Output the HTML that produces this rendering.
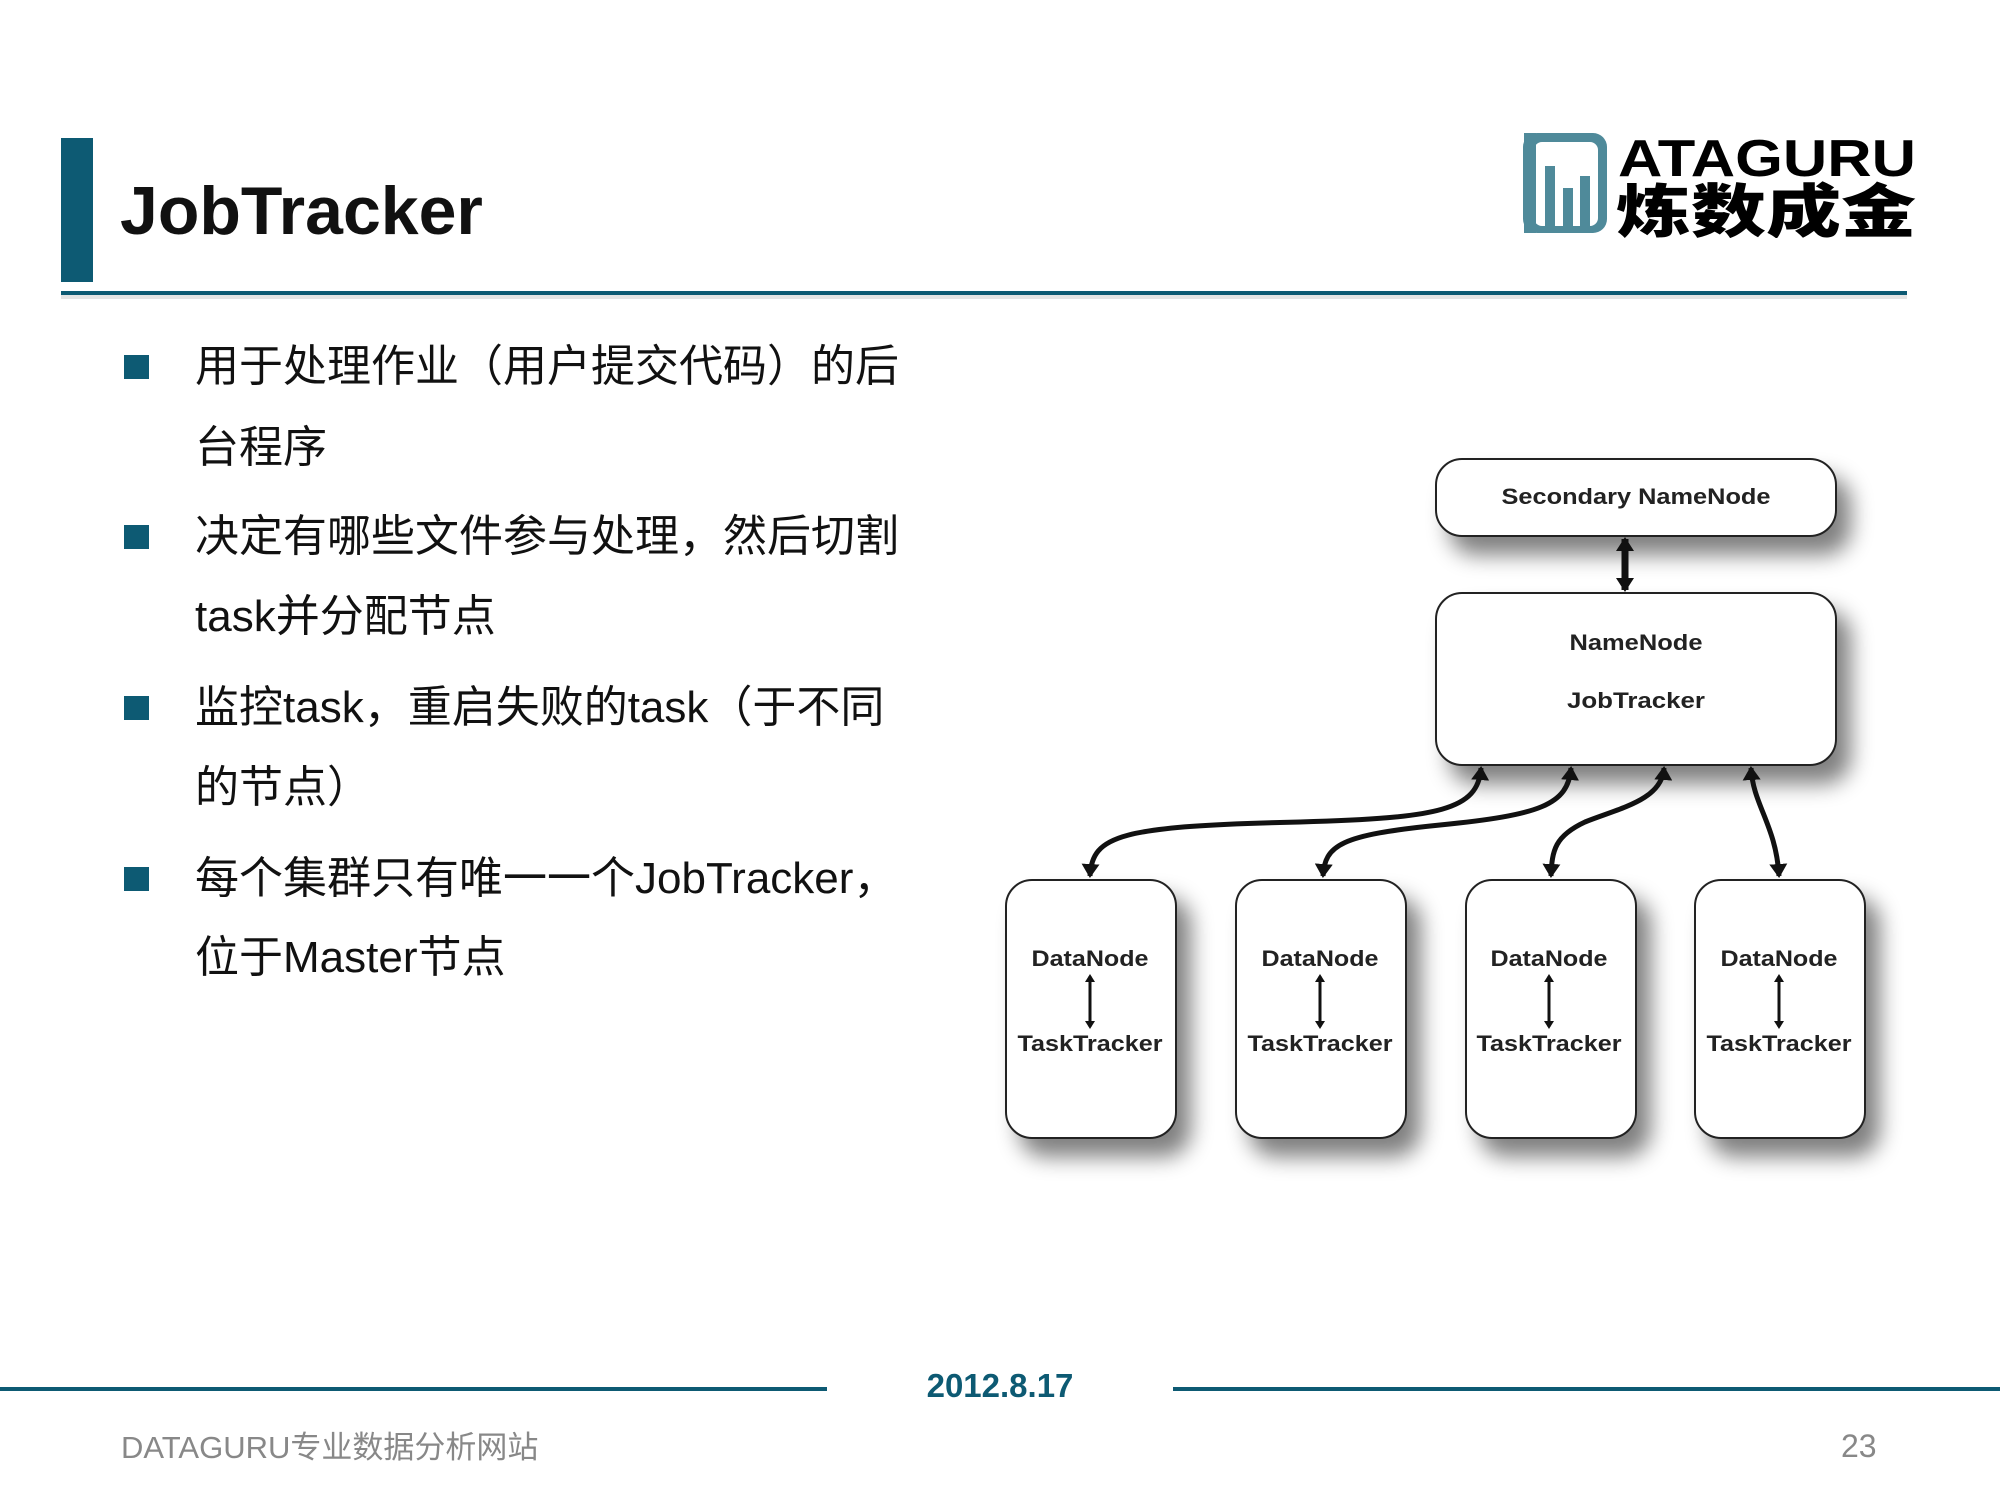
<!DOCTYPE html>
<html><head><meta charset="utf-8"><style>
body{margin:0;width:2000px;height:1500px;background:#fff;position:relative;overflow:hidden;font-family:"Liberation Sans","Noto Sans CJK SC",sans-serif}
.a{position:absolute}
.t{position:absolute;left:195px;font-size:44px;color:#111;white-space:nowrap;line-height:1}
.b{position:absolute;left:124px;width:25px;height:24px;background:#0d5a73}
</style></head><body>
<div class="a" style="left:61px;top:138px;width:32px;height:144px;background:#0d5a73"></div>
<div class="a" style="left:120px;top:177px;font-size:68px;font-weight:bold;color:#111;line-height:1">JobTracker</div>
<div class="a" style="left:61px;top:291px;width:1846px;height:4px;background:#0d5a73"></div>
<div class="a" style="left:61px;top:295px;width:1846px;height:4px;background:#e4e4e4"></div>
<!-- logo -->
<svg class="a" style="left:1520px;top:130px" width="400" height="108">
<rect x="3" y="3" width="84" height="100" rx="14" fill="#4f8a9a"/>
<rect x="14" y="12" width="64" height="84" rx="8" fill="#fff"/>
<rect x="4" y="3" width="12" height="100" fill="#4f8a9a"/>
<rect x="25" y="36" width="10" height="62" fill="#4f8a9a"/><rect x="43" y="58" width="10" height="40" fill="#4f8a9a"/><rect x="60" y="46" width="10" height="52" fill="#4f8a9a"/>
<text x="98" y="46" font-family="Liberation Sans" font-size="52" font-weight="bold" fill="#000" textLength="298" lengthAdjust="spacingAndGlyphs">ATAGURU</text>
<text x="96" y="102" font-family="Noto Sans CJK SC,sans-serif" font-size="58" font-weight="900" fill="#000" textLength="300" lengthAdjust="spacingAndGlyphs">炼数成金</text>
</svg>
<div class="b" style="top:355px"></div><div class="t" style="top:345px">用于处理作业（用户提交代码）的后</div>
<div class="t" style="top:426px">台程序</div>
<div class="b" style="top:525px"></div><div class="t" style="top:515px">决定有哪些文件参与处理，然后切割</div>
<div class="t" style="top:595px">task并分配节点</div>
<div class="b" style="top:696px"></div><div class="t" style="top:686px">监控task，重启失败的task（于不同</div>
<div class="t" style="top:766px">的节点）</div>
<div class="b" style="top:867px"></div><div class="t" style="top:857px">每个集群只有唯一一个JobTracker，</div>
<div class="t" style="top:936px">位于Master节点</div>
<svg class="a" style="left:0;top:0" width="2000" height="1500">
<defs>
<filter id="s" x="-20%" y="-20%" width="150%" height="150%"><feGaussianBlur in="SourceAlpha" stdDeviation="11"/><feOffset dx="14" dy="18"/><feComponentTransfer><feFuncA type="linear" slope="0.5"/></feComponentTransfer><feMerge><feMergeNode/><feMergeNode in="SourceGraphic"/></feMerge></filter>
<marker id="m" markerWidth="8" markerHeight="10" refX="6" refY="5" orient="auto-start-reverse" markerUnits="userSpaceOnUse" viewBox="0 0 8 10"><path d="M0,0 L8,5 L0,10 Z" fill="#111"/></marker>
<marker id="M" markerWidth="14" markerHeight="18" refX="12" refY="9" orient="auto-start-reverse" markerUnits="userSpaceOnUse" viewBox="0 0 14 18"><path d="M0,0 L14,9 L0,18 Z" fill="#111"/></marker>
</defs>
<g filter="url(#s)" fill="#fff" stroke="#222" stroke-width="2">
<rect x="1436" y="459" width="400" height="77" rx="26"/>
<rect x="1436" y="593" width="400" height="172" rx="26"/>
<rect x="1006" y="880" width="170" height="258" rx="26"/>
<rect x="1236" y="880" width="170" height="258" rx="26"/>
<rect x="1466" y="880" width="170" height="258" rx="26"/>
<rect x="1695" y="880" width="170" height="258" rx="26"/>
</g>
<g fill="none" stroke="#111" stroke-width="5">
<path d="M1625,539 L1625,590" marker-start="url(#M)" marker-end="url(#M)" stroke-width="7"/>
<path d="M1481,768 C1478,810 1440,818 1300,822 C1120,826 1092,835 1090,876" marker-start="url(#M)" marker-end="url(#M)"/>
<path d="M1571,768 C1568,805 1540,815 1440,825 C1340,835 1325,845 1323,876" marker-start="url(#M)" marker-end="url(#M)"/>
<path d="M1664,768 C1662,800 1620,808 1585,822 C1555,836 1552,850 1551,876" marker-start="url(#M)" marker-end="url(#M)"/>
<path d="M1751,768 C1753,805 1776,825 1779,876" marker-start="url(#M)" marker-end="url(#M)"/>
</g>
<g stroke="#111" stroke-width="3">
<line x1="1090" y1="976" x2="1090" y2="1027" marker-start="url(#m)" marker-end="url(#m)"/>
<line x1="1320" y1="976" x2="1320" y2="1027" marker-start="url(#m)" marker-end="url(#m)"/>
<line x1="1549" y1="976" x2="1549" y2="1027" marker-start="url(#m)" marker-end="url(#m)"/>
<line x1="1779" y1="976" x2="1779" y2="1027" marker-start="url(#m)" marker-end="url(#m)"/>
</g>
<g font-family="Liberation Sans" font-weight="bold" font-size="22" fill="#222" text-anchor="middle">
<text x="1636" y="504" textLength="269" lengthAdjust="spacingAndGlyphs">Secondary NameNode</text>
<text x="1636" y="650" textLength="133" lengthAdjust="spacingAndGlyphs">NameNode</text>
<text x="1636" y="708" textLength="138" lengthAdjust="spacingAndGlyphs">JobTracker</text>
<text x="1090" y="966" textLength="117" lengthAdjust="spacingAndGlyphs">DataNode</text><text x="1090" y="1051" textLength="145" lengthAdjust="spacingAndGlyphs">TaskTracker</text>
<text x="1320" y="966" textLength="117" lengthAdjust="spacingAndGlyphs">DataNode</text><text x="1320" y="1051" textLength="145" lengthAdjust="spacingAndGlyphs">TaskTracker</text>
<text x="1549" y="966" textLength="117" lengthAdjust="spacingAndGlyphs">DataNode</text><text x="1549" y="1051" textLength="145" lengthAdjust="spacingAndGlyphs">TaskTracker</text>
<text x="1779" y="966" textLength="117" lengthAdjust="spacingAndGlyphs">DataNode</text><text x="1779" y="1051" textLength="145" lengthAdjust="spacingAndGlyphs">TaskTracker</text>
</g>
</svg>
<div class="a" style="left:0;top:1387px;width:827px;height:4px;background:#0d5a73"></div>
<div class="a" style="left:1173px;top:1387px;width:827px;height:4px;background:#0d5a73"></div>
<div class="a" style="left:0;width:2000px;top:1369px;text-align:center;font-size:33px;font-weight:bold;color:#0d5a73;line-height:1">2012.8.17</div>
<div class="a" style="left:121px;top:1432px;font-size:31px;color:#888;line-height:1">DATAGURU专业数据分析网站</div>
<div class="a" style="left:1841px;top:1430px;font-size:32px;color:#888;line-height:1">23</div>
</body></html>
